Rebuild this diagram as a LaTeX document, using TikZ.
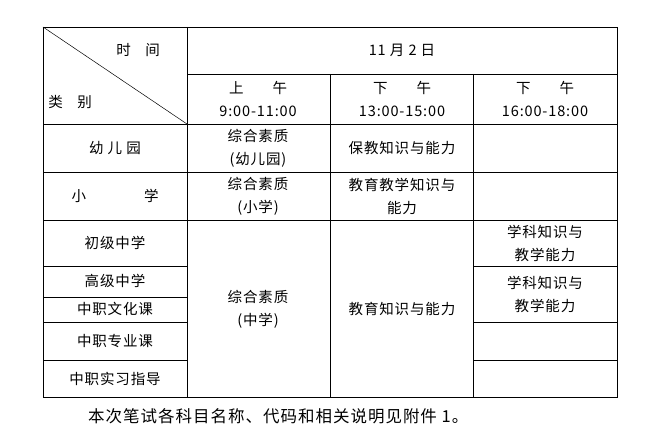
\documentclass[tikz,border=0pt]{standalone}
\usepackage{fontspec}
\newfontfamily\cjk[LetterSpace=6]{Noto Sans CJK SC}
\begin{document}
\begin{tikzpicture}[x=1pt,y=-1pt,
  t/.style={font=\cjk\fontsize{14.5}{23}\selectfont,align=center,inner sep=0pt},
  g/.style={draw=black,line width=0.8pt}]
\useasboundingbox (0,0) rectangle (671,435);
% outer and lines
\draw[g] (43,27) rectangle (617,397);
\draw[g] (187,27) -- (187,397);
\draw[g] (330,74) -- (330,397);
\draw[g] (473,74) -- (473,397);
\draw[g] (187,74) -- (617,74);
\draw[g] (43,124) -- (617,124);
\draw[g] (43,172) -- (617,172);
\draw[g] (43,220) -- (617,220);
\draw[g] (43,266) -- (187,266);
\draw[g] (473,266) -- (617,266);
\draw[g] (43,297) -- (187,297);
\draw[g] (43,322) -- (187,322);
\draw[g] (473,322) -- (617,322);
\draw[g] (43,360) -- (187,360);
\draw[g] (473,360) -- (617,360);
\draw[line width=0.5pt] (43,27) -- (187,124);
% header
\node[t] (sj) at (138,50) {时\quad 间};
\node[t] (lb) at (70,102) {类\quad 别};
\node[t] (date) at (402,50) {11 月 2 日};
\node[t] (c1) at (258,99) {上\qquad 午\\9:00-11:00};
\node[t] (c2) at (402,99) {下\qquad 午\\13:00-15:00};
\node[t] (c3) at (545,99) {下\qquad 午\\16:00-18:00};
% rows
\node[t] (r1) at (115,148) {幼\ 儿\ 园};
\node[t] (r2) at (115,196) {小\qquad\qquad 学};
\node[t] (r3) at (115,243) {初级中学};
\node[t] (r4) at (115,281) {高级中学};
\node[t] (r5) at (115,309) {中职文化课};
\node[t] (r6) at (115,341) {中职专业课};
\node[t] (r7) at (115,379) {中职实习指导};
% cells
\node[t] (a1) at (258,148) {综合素质\\(幼儿园)};
\node[t] (b1) at (402,148) {保教知识与能力};
\node[t] (a2) at (258,196) {综合素质\\(小学)};
\node[t] (b2) at (402,196) {教育教学知识与\\能力};
\node[t] (a3) at (258,309) {综合素质\\(中学)};
\node[t] (b3) at (402,309) {教育知识与能力};
\node[t] (d1) at (545,243) {学科知识与\\教学能力};
\node[t] (d2) at (545,294) {学科知识与\\教学能力};
\node[t,anchor=west,font=\cjk\fontsize{16.5}{20}\selectfont] (fn) at (88,416) {本次笔试各科目名称、代码和相关说明见附件 1。};
\end{tikzpicture}
\end{document}
